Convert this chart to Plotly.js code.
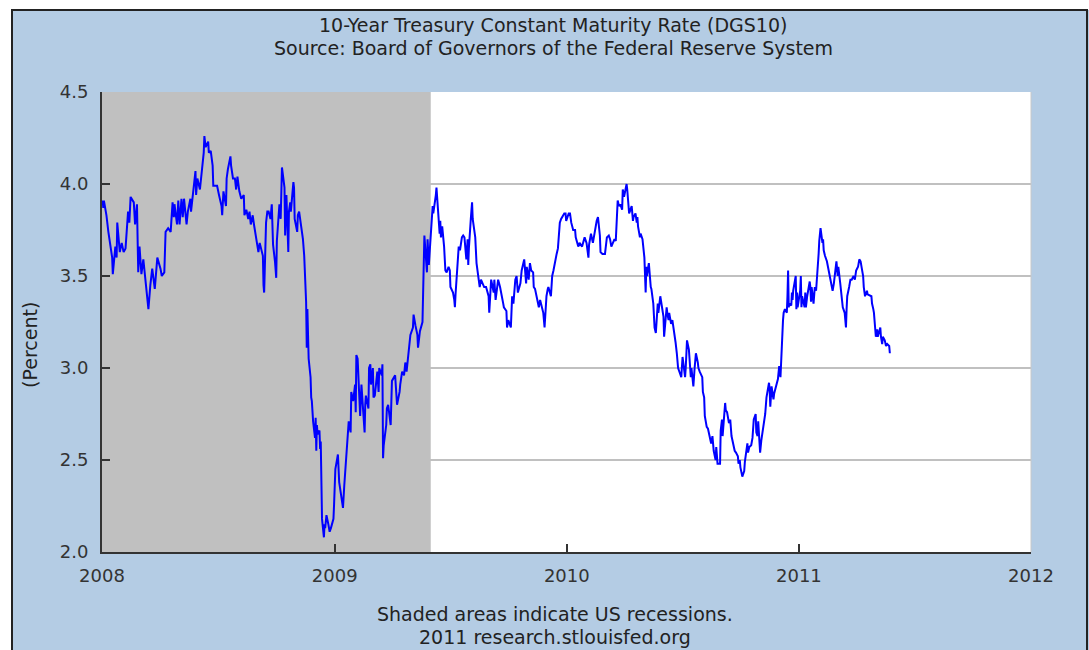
<!DOCTYPE html>
<html>
<head>
<meta charset="utf-8">
<script src="https://cdn.plot.ly/plotly-3.0.1.min.js"></script>
<style>
  html, body { margin: 0; padding: 0; background: #ffffff; }
  #chart { width: 1089px; height: 650px; }
</style>
</head>
<body>
<div id="chart"></div>
<script>
// ---- Data ----
const days2008 = ["01-02","01-03","01-04","01-08","01-11","01-14","01-17","01-18","01-22","01-24","01-25","01-29",
"02-01","02-04","02-07","02-11","02-13","02-15","02-20","02-22","02-25","02-26","02-27","02-29",
"03-03","03-06","03-10","03-12","03-14","03-17","03-20","03-24","03-26","03-28",
"04-02","04-04","04-08","04-10","04-14","04-18","04-21","04-23","04-24","04-28","04-30",
"05-02","05-05","05-07","05-09","05-13","05-15","05-19","05-20","05-23","05-27","05-28","05-30",
"06-03","06-05","06-09","06-10","06-12","06-16","06-17","06-20","06-23","06-24","06-30",
"07-03","07-07","07-08","07-09","07-10","07-14","07-15","07-17","07-21","07-22","07-25","07-28","07-30",
"08-01","08-04","08-07","08-11","08-12","08-15","08-18","08-20","08-22","08-25","08-27","08-29",
"09-02","09-03","09-05","09-08","09-10","09-11","09-12","09-15","09-17","09-19","09-22","09-24","09-25","09-26","09-29",
"10-01","10-02","10-06","10-08","10-10","10-14","10-15","10-17","10-20","10-21","10-23","10-24","10-28","10-29","10-30",
"11-03","11-04","11-06","11-10","11-12","11-14","11-17","11-18","11-19","11-21","11-24","11-25","11-26","11-28",
"12-01","12-02","12-03","12-04","12-05","12-08","12-09","12-10","12-11","12-12","12-15","12-16","12-17","12-18","12-19",
"12-22","12-23","12-24","12-26","12-29","12-30","12-31"];
const rates2008 = [3.91,3.87,3.91,3.83,3.74,3.66,3.60,3.51,3.66,3.60,3.79,3.63,
3.68,3.63,3.65,3.85,3.79,3.93,3.90,3.78,3.89,3.70,3.52,3.66,
3.51,3.59,3.45,3.37,3.32,3.45,3.54,3.43,3.54,3.60,
3.54,3.50,3.52,3.74,3.76,3.74,3.90,3.82,3.89,3.78,3.91,
3.78,3.92,3.82,3.92,3.78,3.85,3.92,3.85,3.94,4.07,3.94,4.03,
3.97,4.05,4.17,4.26,4.20,4.23,4.17,4.18,4.10,3.99,3.99,
3.94,3.88,3.83,3.94,3.96,3.88,4.03,4.08,4.15,4.10,4.03,4.03,3.97,
4.04,3.96,3.92,3.94,3.83,3.86,3.81,3.85,3.78,3.83,3.78,3.74,
3.66,3.63,3.68,3.63,3.61,3.45,3.41,3.79,3.85,3.85,3.81,3.89,3.78,3.67,3.58,
3.49,3.69,3.89,3.81,4.09,3.98,3.72,3.94,3.63,3.85,3.90,3.85,4.01,3.98,3.81,
3.74,3.83,3.85,3.74,3.70,3.61,3.36,3.11,3.32,3.05,2.95,2.84,2.82,2.71,
2.62,2.73,2.55,2.69,2.64,2.66,2.56,2.60,2.45,2.18,2.08,2.15,2.13,2.18,2.20,
2.15,2.13,2.11,2.13,2.16,2.18,2.26];

const days2009 = ["01-02","01-05","01-06","01-08","01-12","01-14","01-16","01-20","01-22","01-23","01-26","01-27","01-30",
"02-02","02-03","02-04","02-06","02-09","02-10","02-12","02-17","02-18","02-19","02-23","02-24","02-26","02-27",
"03-02","03-03","03-05","03-09","03-11","03-12","03-16","03-17","03-18","03-19","03-23","03-24","03-26","03-30",
"04-01","04-03","04-06","04-09","04-13","04-14","04-17","04-20","04-22","04-24","04-27","04-30",
"05-04","05-05","05-08","05-11","05-12","05-14","05-15","05-19","05-20","05-22","05-26","05-27","05-29",
"06-01","06-02","06-03","06-04","06-05","06-08","06-09","06-10","06-11","06-12","06-15","06-16","06-17","06-19","06-22","06-24","06-26","06-29",
"07-01","07-02","07-06","07-08","07-09","07-10","07-13","07-15","07-17","07-20","07-22","07-24","07-27","07-29","07-30","07-31",
"08-03","08-05","08-06","08-10","08-12","08-14","08-17","08-19","08-21","08-24","08-27","08-31",
"09-01","09-02","09-04","09-08","09-09","09-11","09-14","09-15","09-18","09-21","09-23","09-24","09-28","09-29",
"10-01","10-05","10-07","10-09","10-12","10-14","10-16","10-20","10-22","10-26","10-27","10-29","10-30",
"11-02","11-04","11-06","11-09","11-10","11-12","11-16","11-18","11-20","11-23","11-25","11-27","11-30",
"12-02","12-03","12-07","12-09","12-11","12-14","12-16","12-18","12-21","12-23","12-28","12-30","12-31"];
const rates2009 = [2.45,2.51,2.53,2.38,2.29,2.24,2.36,2.58,2.67,2.71,2.65,2.87,2.82,
2.91,2.76,3.07,3.05,2.84,2.74,2.91,2.65,2.80,2.85,2.78,3.00,3.02,2.91,
3.00,2.84,2.85,2.98,2.87,3.00,2.96,3.02,2.51,2.58,2.69,2.78,2.80,2.69,
2.93,2.94,2.96,2.80,2.87,2.91,2.98,2.96,3.03,2.98,3.09,3.18,
3.22,3.29,3.23,3.18,3.11,3.16,3.20,3.25,3.45,3.72,3.52,3.70,3.56,
3.70,3.78,3.82,3.88,3.84,3.90,3.94,3.98,3.93,3.84,3.73,3.80,3.71,3.77,3.66,3.53,3.52,3.55,
3.53,3.44,3.41,3.37,3.33,3.40,3.60,3.66,3.64,3.71,3.72,3.71,3.59,3.70,3.56,3.65,
3.81,3.90,3.81,3.71,3.57,3.52,3.44,3.48,3.46,3.44,3.44,3.39,
3.30,3.39,3.48,3.41,3.48,3.37,3.44,3.48,3.44,3.37,3.35,3.33,3.31,3.22,
3.26,3.22,3.39,3.35,3.48,3.50,3.41,3.46,3.53,3.59,3.52,3.46,3.55,
3.48,3.57,3.53,3.52,3.44,3.43,3.37,3.33,3.37,3.33,3.30,3.22,3.39,
3.43,3.44,3.39,3.50,3.53,3.60,3.62,3.65,3.79,3.81,3.84,3.84,3.80];

const days2010 = ["01-04","01-06","01-08","01-11","01-14","01-15","01-19","01-21","01-25","01-27","01-29",
"02-01","02-04","02-05","02-08","02-11","02-16","02-17","02-19","02-22","02-23","02-26",
"03-02","03-03","03-05","03-08","03-10","03-12","03-15","03-17","03-19","03-22","03-24","03-26","03-29","03-30",
"04-01","04-05","04-06","04-07","04-08","04-09","04-13","04-15","04-16","04-19","04-21","04-22","04-23","04-26","04-27","04-30",
"05-03","05-04","05-05","05-06","05-07","05-10","05-12","05-13","05-14","05-17","05-19","05-20","05-21","05-24","05-25","05-28",
"06-01","06-02","06-03","06-04","06-07","06-08","06-10","06-11","06-14","06-16","06-18","06-21","06-23","06-25","06-28","06-30",
"07-02","07-06","07-07","07-09","07-12","07-13","07-15","07-16","07-19","07-21","07-23","07-26","07-27","07-29",
"08-02","08-03","08-05","08-06","08-09","08-11","08-13","08-16","08-18","08-20","08-23","08-24","08-26","08-30","08-31",
"09-02","09-03","09-07","09-08","09-10","09-13","09-15","09-17","09-20","09-22","09-24","09-27","09-28","09-30",
"10-01","10-04","10-05","10-07","10-08","10-12","10-13","10-15","10-18","10-20","10-22","10-25","10-26","10-28","10-29",
"11-01","11-03","11-05","11-08","11-09","11-11","11-15","11-16","11-17","11-19","11-22","11-23","11-26","11-29",
"12-01","12-02","12-03","12-07","12-08","12-10","12-13","12-14","12-15","12-16","12-17","12-20","12-21","12-22","12-23",
"12-27","12-28","12-29","12-30"];
const rates2010 = [3.84,3.84,3.79,3.75,3.75,3.71,3.66,3.68,3.66,3.68,3.71,
3.68,3.60,3.67,3.73,3.68,3.79,3.80,3.82,3.72,3.63,3.62,
3.62,3.66,3.71,3.72,3.70,3.66,3.68,3.70,3.69,3.91,3.88,3.89,3.86,3.97,
3.93,4.00,3.97,3.90,3.91,3.84,3.88,3.80,3.82,3.84,3.79,3.82,3.77,3.71,3.73,3.70,
3.60,3.53,3.41,3.55,3.50,3.57,3.46,3.44,3.43,3.35,3.22,3.21,3.19,3.35,3.30,3.39,
3.30,3.28,3.17,3.22,3.33,3.30,3.26,3.30,3.24,3.26,3.22,3.14,3.08,3.00,2.97,2.95,
3.06,2.95,3.00,3.15,3.10,3.02,2.95,3.00,2.90,3.00,3.08,3.03,3.00,2.98,
2.95,2.87,2.84,2.74,2.68,2.67,2.63,2.59,2.63,2.55,2.50,2.57,2.48,2.48,2.66,
2.72,2.63,2.81,2.77,2.76,2.70,2.72,2.63,2.57,2.55,2.54,2.52,2.48,2.50,
2.46,2.41,2.42,2.44,2.49,2.59,2.54,2.57,2.58,2.62,2.72,2.75,2.65,2.63,2.71,
2.54,2.61,2.65,2.72,2.75,2.84,2.92,2.88,2.79,2.90,2.83,2.86,2.90,2.94,
3.01,2.99,2.95,3.26,3.30,3.32,3.30,3.39,3.53,3.33,3.35,3.34,3.41,3.37,3.42,
3.50,3.32,3.41,3.33];

const days2011 = ["01-03","01-04","01-05","01-06","01-10","01-11","01-12","01-14","01-18","01-19","01-20","01-21","01-24","01-26","01-28","01-31",
"02-01","02-02","02-04","02-07","02-08","02-09","02-10","02-11","02-14","02-15","02-18","02-22","02-23","02-25",
"03-01","03-03","03-04","03-07","03-09","03-11","03-14","03-16","03-17","03-18","03-21","03-23","03-25","03-28","03-30",
"04-01","04-04","04-06","04-08","04-11","04-12","04-13","04-15","04-18","04-19","04-25","04-26","04-28","04-29",
"05-02","05-04","05-05","05-09","05-10","05-12","05-13","05-16","05-18","05-20","05-23","05-24"];
const rates2011 = [3.42,3.50,3.33,3.39,3.33,3.41,3.33,3.39,3.47,3.44,3.36,3.44,3.35,3.44,3.42,3.55,
3.62,3.69,3.76,3.68,3.70,3.64,3.62,3.61,3.58,3.56,3.50,3.44,3.42,3.46,
3.58,3.50,3.55,3.46,3.39,3.33,3.30,3.22,3.32,3.39,3.44,3.48,3.48,3.50,3.48,
3.53,3.55,3.59,3.58,3.52,3.50,3.44,3.39,3.42,3.40,3.39,3.35,3.32,3.30,
3.17,3.21,3.17,3.22,3.17,3.13,3.17,3.15,3.12,3.13,3.12,3.08];

const xTickVals = ["2008-01-01","2009-01-01","2010-01-01","2011-01-01","2012-01-01"];
const xTickText = ["2008","2009","2010","2011","2012"];
const yTickVals = [2.0,2.5,3.0,3.5,4.0,4.5];
const yTickText = ["2.0","2.5","3.0","3.5","4.0","4.5"];
const recessionStart = "2008-01-01";
const recessionEnd = "2009-06-01";

// ---- Build series ----
const dates = [].concat(
  days2008.map(d => "2008-" + d),
  days2009.map(d => "2009-" + d),
  days2010.map(d => "2010-" + d),
  days2011.map(d => "2011-" + d)
);
const rates = [].concat(rates2008, rates2009, rates2010, rates2011);

// pixel helpers for paper placement (plot area: x 102..1031, y 92..552)
const PL = 102, PW = 929, PB = 552, PH = 460;
const px = x => (x - PL) / PW;
const py = y => (PB - y) / PH;

const FONT = "DejaVu Sans, Verdana, sans-serif";

const trace = {
  x: dates, y: rates, type: "scatter", mode: "lines",
  line: { color: "#0000ff", width: 2 },
  hoverinfo: "x+y"
};

const layout = {
  width: 1089, height: 650,
  margin: { l: 102, r: 58, t: 92, b: 98, pad: 0 },
  paper_bgcolor: "#b4cce4",
  plot_bgcolor: "#ffffff",
  showlegend: false,
  font: { family: FONT, color: "#222222" },
  xaxis: {
    type: "date",
    range: ["2008-01-01", "2012-01-01"],
    tickmode: "array", tickvals: xTickVals, ticktext: xTickText,
    ticks: "inside", ticklen: 8, tickwidth: 2, tickcolor: "#333333",
    showline: true, linecolor: "#333333", linewidth: 2,
    showgrid: false, zeroline: false,
    tickfont: { family: FONT, size: 18, color: "#333333" },
    ticklabelstandoff: 6,
    fixedrange: true
  },
  yaxis: {
    range: [2.0, 4.5],
    tickmode: "array", tickvals: yTickVals, ticktext: yTickText,
    ticks: "inside", ticklen: 8, tickwidth: 2, tickcolor: "#333333",
    showline: true, linecolor: "#333333", linewidth: 2,
    showgrid: true, gridcolor: "#c0c0c0", gridwidth: 2,
    zeroline: false,
    tickfont: { family: FONT, size: 18, color: "#333333" },
    ticklabelstandoff: 8,
    fixedrange: true
  },
  shapes: [
    // recession shading (between gridlines and the line)
    { type: "rect", xref: "x", yref: "paper", x0: recessionStart, x1: recessionEnd, y0: 0, y1: 1,
      fillcolor: "#c0c0c0", line: { width: 0 }, layer: "between" },
    // light right edge of the plot
    { type: "line", xref: "paper", yref: "paper", x0: 1, x1: 1, y0: 0, y1: 1,
      line: { color: "#c8c8c8", width: 1 }, layer: "above" },
    // white outside the frame (top and left strips)
    { type: "rect", xref: "paper", yref: "paper", x0: px(-5), x1: px(1100), y0: py(-5), y1: py(10),
      fillcolor: "#ffffff", line: { width: 0 }, layer: "above" },
    { type: "rect", xref: "paper", yref: "paper", x0: px(-5), x1: px(12), y0: py(-5), y1: py(660),
      fillcolor: "#ffffff", line: { width: 0 }, layer: "above" },
    // frame border
    { type: "rect", xref: "paper", yref: "paper", x0: px(12), x1: px(1087), y0: py(10), y1: py(662),
      fillcolor: "rgba(0,0,0,0)", line: { color: "#222222", width: 2 }, layer: "above" }
  ],
  annotations: [
    { text: "10-Year Treasury Constant Maturity Rate (DGS10)", xref: "paper", yref: "paper",
      x: px(553), y: py(25), xanchor: "center", yanchor: "middle", showarrow: false,
      font: { family: FONT, size: 19, color: "#222222" } },
    { text: "Source: Board of Governors of the Federal Reserve System", xref: "paper", yref: "paper",
      x: px(553), y: py(48), xanchor: "center", yanchor: "middle", showarrow: false,
      font: { family: FONT, size: 19, color: "#222222" } },
    { text: "(Percent)", xref: "paper", yref: "paper", textangle: -90,
      x: px(30), y: py(345), xanchor: "center", yanchor: "middle", showarrow: false,
      font: { family: FONT, size: 19, color: "#222222" } },
    { text: "Shaded areas indicate US recessions.", xref: "paper", yref: "paper",
      x: px(555), y: py(614), xanchor: "center", yanchor: "middle", showarrow: false,
      font: { family: FONT, size: 19, color: "#222222" } },
    { text: "2011 research.stlouisfed.org", xref: "paper", yref: "paper",
      x: px(555), y: py(637), xanchor: "center", yanchor: "middle", showarrow: false,
      font: { family: FONT, size: 19, color: "#222222" } }
  ]
};

Plotly.newPlot("chart", [trace], layout, { displayModeBar: false, staticPlot: true });
</script>
</body>
</html>
